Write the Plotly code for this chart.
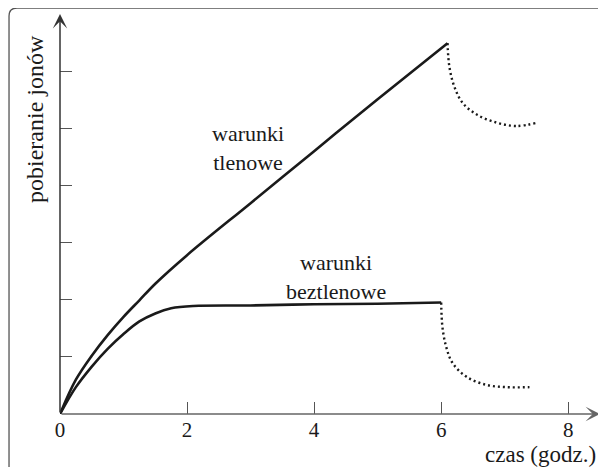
import plotly.graph_objects as go

# warunki tlenowe (linia ciągła)
czas_tlen = [0, 0.25, 0.5, 0.75, 1.0, 1.25, 1.5, 2.0, 3.0, 4.0, 5.0, 6.1]
pob_tlen = [0, 0.6, 1.02, 1.38, 1.7, 1.99, 2.28, 2.78, 3.69, 4.6, 5.51, 6.49]

# warunki beztlenowe (linia ciągła)
czas_beztlen = [0, 0.25, 0.5, 0.75, 1.0, 1.25, 1.5, 1.75, 2.1, 3.0, 4.0, 5.0, 6.0]
pob_beztlen = [0, 0.47, 0.83, 1.14, 1.4, 1.62, 1.76, 1.85, 1.89, 1.9, 1.92, 1.93, 1.95]

# po 6 godz. (linie kropkowane)
czas_tlen_po = [6.1, 6.13, 6.21, 6.34, 6.56, 6.87, 7.18, 7.52]
pob_tlen_po = [6.49, 6.07, 5.72, 5.44, 5.24, 5.10, 5.04, 5.10]
czas_beztlen_po = [6.0, 6.02, 6.08, 6.18, 6.40, 6.71, 7.03, 7.39]
pob_beztlen_po = [1.95, 1.52, 1.17, 0.89, 0.65, 0.51, 0.47, 0.47]

x_ticks = [0, 2, 4, 6, 8]
y_ticks = [1, 2, 3, 4, 5, 6]

FONT = "Liberation Serif, Times New Roman, DejaVu Serif, serif"
KOLOR = "#1a1a1a"

fig = go.Figure()

for xs, ys in [(czas_tlen, pob_tlen), (czas_beztlen, pob_beztlen)]:
    fig.add_trace(go.Scatter(
        x=xs, y=ys, mode="lines",
        line=dict(color=KOLOR, width=2.6, shape="spline", smoothing=1),
        hoverinfo="skip", showlegend=False
    ))

for xs, ys in [(czas_tlen_po, pob_tlen_po), (czas_beztlen_po, pob_beztlen_po)]:
    fig.add_trace(go.Scatter(
        x=xs, y=ys, mode="lines",
        line=dict(color=KOLOR, width=2.4, shape="spline", smoothing=1, dash="2px,3px"),
        hoverinfo="skip", showlegend=False
    ))

# osie ze strzałkami
osie = [
    dict(x=8.5, y=0, arrowcolor="#666666"),
    dict(x=0, y=7.0, arrowcolor="#333333"),
]
adnotacje = []
for o in osie:
    adnotacje.append(dict(
        x=o["x"], y=o["y"], ax=0, ay=0, xref="x", yref="y",
        axref="x", ayref="y", text="", showarrow=True,
        arrowhead=3, arrowsize=1.6, arrowwidth=1.5, arrowcolor=o["arrowcolor"]
    ))

# opisy krzywych
teksty = [
    ("warunki<br>tlenowe", 2.96, 4.66),
    ("warunki<br>beztlenowe", 4.35, 2.39),
]
for t, x, y in teksty:
    adnotacje.append(dict(
        x=x, y=y, xref="x", yref="y", text=t, showarrow=False,
        font=dict(family=FONT, size=22, color=KOLOR),
        xanchor="center", yanchor="middle"
    ))

# tytuły osi (poza obszarem wykresu -> współrzędne paper)
adnotacje.append(dict(
    x=0.889, y=-0.1, xref="paper", yref="paper", text="czas (godz.)",
    showarrow=False, font=dict(family=FONT, size=23, color=KOLOR),
    xanchor="center", yanchor="middle"
))
adnotacje.append(dict(
    x=-0.0463, y=0.7375, xref="paper", yref="paper", text="pobieranie jonów",
    showarrow=False, textangle=-90,
    font=dict(family=FONT, size=24, color=KOLOR),
    xanchor="center", yanchor="middle"
))

fig.update_layout(
    width=598, height=459, autosize=False,
    margin=dict(l=52, r=6, t=6, b=53),
    paper_bgcolor="white", plot_bgcolor="white",
    annotations=adnotacje,
    xaxis=dict(
        range=[0, 8.5], showgrid=False, zeroline=False, showline=False,
        tickvals=x_ticks, ticks="inside", ticklen=12, tickwidth=1.3,
        tickcolor="#555555", ticklabelstandoff=1,
        tickfont=dict(family=FONT, size=21, color=KOLOR),
    ),
    yaxis=dict(
        range=[0, 7.0], showgrid=False, zeroline=False, showline=False,
        tickvals=y_ticks, ticks="inside", ticklen=12, tickwidth=1.3,
        tickcolor="#555555", showticklabels=False,
    ),
    shapes=[dict(
        type="path", xref="paper", yref="paper",
        path="M -0.0944,-0.16 L -0.0944,0.995 Q -0.0944,1.015 -0.0796,1.015 L 1.03,1.015",
        line=dict(color="#555555", width=1.3),
    )],
)

fig.write_html("out.html")
